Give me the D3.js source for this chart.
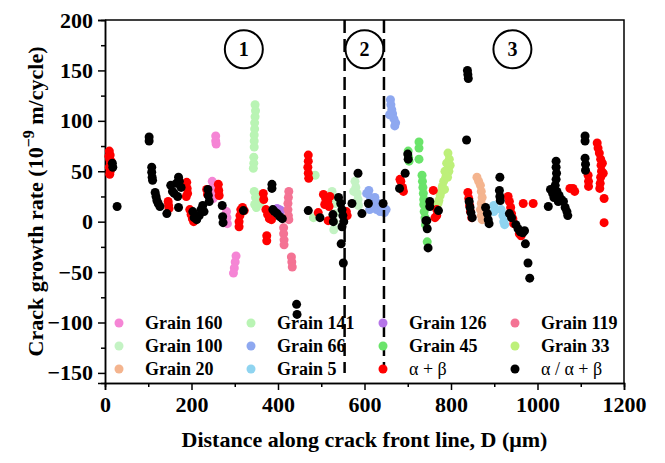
<!DOCTYPE html>
<html>
<head>
<meta charset="utf-8">
<script src="https://cdn.jsdelivr.net/npm/d3@7"></script>
<style>
    body { margin: 0; background: #fff; }
    svg text { font-family: "Liberation Serif", "Times New Roman", serif; fill: #000; }
    .axis path, .axis line { stroke: #000; stroke-width: 1.5; }
    .axis text { font-size: 22px; font-weight: bold; }
</style>
</head>
<body>
<svg id="chart" width="665" height="463"></svg>
<script>
var xTicks = [0, 200, 400, 600, 800, 1000, 1200];
var xMinorTicks = [100, 300, 500, 700, 900, 1100];
var yTicks = [-150, -100, -50, 0, 50, 100, 150, 200];
var yMinorTicks = [-125, -75, -25, 25, 75, 125, 175];

var regionLabels = ['1', '2', '3'];
var regionCenters = [321, 600, 942];
var regionBounds = [554, 645];

var seriesLabels = ['Grain 160', 'Grain 141', 'Grain 126', 'Grain 119',
    'Grain 100', 'Grain 66', 'Grain 45', 'Grain 33',
    'Grain 20', 'Grain 5', 'α + β', 'α / α + β'];

var grain160 = [[248,40],[250,34],[252,28],[250,23],[256,85],[256,80],[257,77],
    [281,10],[282,4],[283,-2],[303,-34],[301,-40],[299,-46],[297,-51]];
var grain141 = [[347,116],[348,110],[347,104],[346,98],[346,92],[345,86],[345,80],[345,74],
    [344,64],[344,58],[343,53],[345,30],[348,24],[352,20],[356,26],[358,18],[350,14],[346,17],
    [486,46],[482,4]];
var grain126 = [[398,13],[403,12],[407,11]];
var grain119 = [[425,30],[424,24],[423,18],[423,12],[424,6],[425,2],[413,-6],[413,-12],
    [414,-18],[414,-23],[431,-35],[432,-40],[433,-45]];
var grain100 = [[525,30],[530,24],[533,18],[531,8],[530,0],[529,-8],
    [578,40],[580,34],[583,28],[585,22],[586,16],[575,30]];
var grain66 = [[605,28],[610,31],[614,24],[618,20],[622,16],[628,12],[632,18],[636,10],
    [640,14],[646,9],[650,12],[612,12],[624,24],
    [660,121],[661,116],[663,111],[665,107],[668,102],[672,98],[670,95],[658,106]];
var grain45 = [[701,70],[702,64],[703,60],[726,79],[726,73],[726,62],[733,46],[734,40],
    [735,34],[736,28],[737,22],[737,17],[738,10],[740,4],[741,-3],[745,-20]];
var grain33 = [[793,68],[796,62],[798,56],[795,50],[790,58],[786,50],[788,44],[783,40],
    [780,35],[778,30],[775,26],[772,21],[770,18],[785,32],[792,44]];
var grain20 = [[860,44],[864,40],[868,36],[870,30],[872,24],[870,18],[868,12],[870,6],[872,2]];
var grain5 = [[899,16],[899,10],[916,12],[920,6],[922,0],[924,-3]];
var alphaBeta = [[10,70],[12,66],[11,62],[13,58],[10,54],[12,50],[11,47],[14,60],[9,65],
    [146,20],[147,16],[148,13],[189,39],[190,33],[191,28],[188,25],
    [196,12],[199,7],[202,3],[205,0],[235,32],[237,27],[262,37],[263,31],[264,26],
    [314,12],[312,6],[310,0],[310,-5],[318,14],[322,11],[366,28],[367,22],
    [372,12],[376,7],[380,3],[385,2],[374,-14],[374,-19],
    [470,66],[470,60],[469,54],[470,48],[471,43],[493,9],
    [505,27],[510,23],[515,20],[520,25],[508,17],[518,15],[516,1],[558,10],[560,6],
    [684,40],[688,34],[690,30],[682,42],[759,31],[763,4],[767,12],[767,6],
    [839,29],[841,23],[843,16],[845,10],[848,4],
    [932,25],[935,20],[938,14],[940,8],[943,3],[945,-2],[958,-12],[962,-14],
    [967,18],[990,18],[1075,33],[1082,33],[1086,30],[1117,46],[1118,40],[1118,35],
    [1138,78],[1140,73],[1143,68],[1146,62],[1147,56],[1148,50],[1146,44],[1145,38],
    [1144,33],[1150,58],[1152,48],[1154,23],[1154,-1]];
var alphaAlphaBeta = [[17,58],[18,54],[28,15],[102,84],[102,80],
    [108,54],[108,49],[109,44],[110,41],[116,29],[118,25],[120,21],[123,18],[127,15],[143,8],
    [152,36],[156,30],[160,28],[165,38],[170,44],[172,40],[176,34],[168,25],[170,14],
    [203,10],[206,4],[212,2],[218,6],[222,12],[226,16],[229,10],[238,32],[239,26],[241,20],
    [271,16],[272,5],[273,-1],[320,11],[386,37],[386,33],[388,12],
    [392,10],[398,8],[404,5],[410,3],[443,-82],[444,-92],
    [470,11],[497,4],[527,7],[528,0],
    [540,24],[545,18],[548,12],[550,6],[552,0],[548,-5],[546,-22],[551,-41],
    [571,18],[585,48],[594,8],[609,18],[643,18],[681,33],[694,48],[700,67],[701,62],
    [742,1],[744,1],[745,-7],[747,-26],[751,20],[751,15],[771,11],
    [838,150],[839,146],[840,142],[836,81],[842,20],[844,14],[846,9],[849,4],
    [880,14],[884,8],[886,2],[888,-2],[913,44],[912,31],[913,25],[914,21],
    [935,8],[940,4],[950,-3],[955,-7],[960,-10],[966,-11],[970,-9],
    [972,-22],[978,-41],[982,-56],
    [1025,15],[1043,60],[1043,54],[1044,48],[1043,42],[1041,36],[1030,32],[1035,28],
    [1038,24],[1045,30],[1050,26],[1055,22],[1048,20],[1060,20],[1064,14],[1068,10],[1070,6],
    [1110,85],[1110,80],[1110,63],[1111,57],[1111,51]];

// legend order; drawing order puts the grains first, then red, then black
var series = [
    {label: seriesLabels[0], values: grain160, color: '#f585d5'},
    {label: seriesLabels[1], values: grain141, color: '#b9f4b4'},
    {label: seriesLabels[2], values: grain126, color: '#b574e8'},
    {label: seriesLabels[3], values: grain119, color: '#f47394'},
    {label: seriesLabels[4], values: grain100, color: '#c4f3c4'},
    {label: seriesLabels[5], values: grain66, color: '#8ea8f0'},
    {label: seriesLabels[6], values: grain45, color: '#6ae46a'},
    {label: seriesLabels[7], values: grain33, color: '#bdf07a'},
    {label: seriesLabels[8], values: grain20, color: '#f4b48e'},
    {label: seriesLabels[9], values: grain5, color: '#8fd4f0'},
    {label: seriesLabels[10], values: alphaBeta, color: '#ff0000', plain: true},
    {label: seriesLabels[11], values: alphaAlphaBeta, color: '#000000', plain: true}
];

var plotLeft = 105, plotRight = 624, plotTop = 20, plotBottom = 383;
var svg = d3.select('#chart');

var x = d3.scaleLinear().domain([0, 1200]).range([plotLeft, plotRight]);
var y = d3.scaleLinear().domain([-160, 200]).range([plotBottom, plotTop]);

function drawAxes() {
    svg.append('g').attr('class', 'axis')
        .attr('transform', 'translate(0,' + plotBottom + ')')
        .call(d3.axisBottom(x).tickValues(xMinorTicks).tickSize(4).tickFormat(''));
    svg.append('g').attr('class', 'axis')
        .attr('transform', 'translate(0,' + plotBottom + ')')
        .call(d3.axisBottom(x).tickValues(xTicks).tickSize(7).tickPadding(6).tickFormat(d3.format('d')));

    svg.append('g').attr('class', 'axis')
        .attr('transform', 'translate(' + plotLeft + ',0)')
        .call(d3.axisLeft(y).tickValues(yMinorTicks).tickSize(4).tickFormat(''));
    svg.append('g').attr('class', 'axis')
        .attr('transform', 'translate(' + plotLeft + ',0)')
        .call(d3.axisLeft(y).tickValues(yTicks).tickSize(7).tickPadding(5).tickFormat(d3.format('d')));

    svg.append('path')
        .attr('d', 'M' + plotLeft + ',' + plotTop + 'H' + plotRight + 'V' + plotBottom)
        .attr('fill', 'none').attr('stroke', '#000').attr('stroke-width', 1.5);

    svg.append('text')
        .attr('x', (plotLeft + plotRight) / 2).attr('y', 447)
        .attr('text-anchor', 'middle')
        .style('font-size', '22px').style('font-weight', 'bold')
        .text('Distance along crack front line, D (μm)');

    var yTitle = svg.append('text')
        .attr('transform', 'translate(43,' + ((plotTop + plotBottom) / 2) + ') rotate(-90)')
        .attr('text-anchor', 'middle')
        .style('font-size', '22px').style('font-weight', 'bold');
    yTitle.append('tspan').text('Crack growth rate (10');
    yTitle.append('tspan').attr('dy', -9).style('font-size', '16px').text('−9');
    yTitle.append('tspan').attr('dy', 9).text(' m/cycle)');
}

function drawRegions() {
    regionBounds.forEach(function (d) {
        svg.append('line')
            .attr('x1', x(d)).attr('x2', x(d))
            .attr('y1', y(200)).attr('y2', y(-150))
            .attr('stroke', '#000').attr('stroke-width', 2.5)
            .attr('stroke-dasharray', '13,6');
    });

    regionLabels.forEach(function (d, i) {
        var g = svg.append('g').attr('transform', 'translate(' + x(regionCenters[i]) + ',' + y(171) + ')');
        g.append('circle').attr('r', 19).attr('fill', 'none').attr('stroke', '#000').attr('stroke-width', 2);
        g.append('text').attr('text-anchor', 'middle').attr('dy', '0.35em')
            .style('font-size', '20px').style('font-weight', 'bold').text(d);
    });
}

function drawPoints() {
    series.forEach(function (s) {
        svg.append('g').selectAll('circle')
            .data(s.values)
            .enter().append('circle')
            .attr('cx', function (d) { return x(d[0]); })
            .attr('cy', function (d) { return y(d[1]); })
            .attr('r', 4.5)
            .attr('fill', s.color);
    });
}

function drawLegend() {
    var colX = [119, 251, 383, 515], rowY = [323, 346, 369];

    series.forEach(function (s, i) {
        var g = svg.append('g')
            .attr('transform', 'translate(' + colX[i % 4] + ',' + rowY[Math.floor(i / 4)] + ')');
        g.append('circle').attr('r', 4.5).attr('fill', s.color);
        g.append('text').attr('x', 26).attr('dy', '0.35em')
            .style('font-size', '18px')
            .style('font-weight', s.plain ? 'normal' : 'bold')
            .text(s.label);
    });
}

drawAxes();
drawPoints();
drawRegions();
drawLegend();
</script>
</body>
</html>
